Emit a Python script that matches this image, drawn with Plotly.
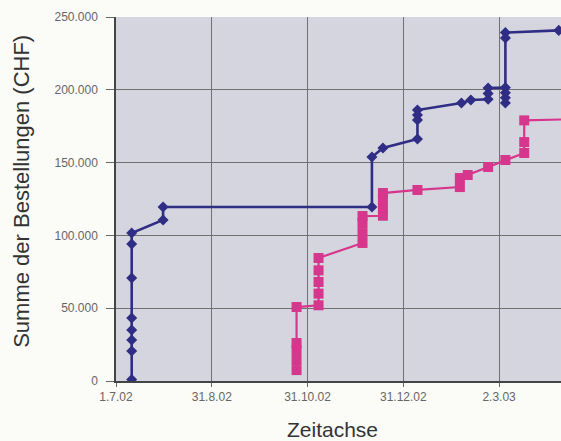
import plotly.graph_objects as go

# Blue series (diamonds)
blue_dates = (["2002-07-11"] * 8 + ["2002-07-31"] * 2 + ["2002-12-11"] * 2 +
              ["2002-12-18"] + ["2003-01-09"] * 4 + ["2003-02-06", "2003-02-12"] +
              ["2003-02-23"] * 3 + ["2003-03-06"] * 6 + ["2003-04-09"])
blue_values = [1000, 20600, 28200, 35000, 43300, 70700, 94100, 101600,
               110600, 119500,
               119500, 153800,
               160000,
               166200, 179200, 182700, 186100,
               190900, 193000,
               193500, 197500, 201200,
               201500, 191000, 194500, 198000, 235600, 239300,
               240800]

# Pink series (squares)
pink_dates = (["2002-10-24"] * 5 + ["2002-11-07"] * 5 + ["2002-12-05"] * 4 +
              ["2002-12-18"] * 4 + ["2003-01-09", "2003-02-05", "2003-02-05",
              "2003-02-10", "2003-02-23", "2003-03-06"] + ["2003-03-18"] * 3 +
              ["2003-04-25"])
pink_values = [7500, 14400, 21300, 26100, 50800,
               52000, 60000, 68000, 76000, 84500,
               94800, 101600, 108500, 113300,
               113500, 119000, 125000, 129100,
               131200, 133200, 139400, 141500, 147000, 151800,
               156600, 164100, 179000,
               180000]

x_tickvals = ["2002-07-01", "2002-08-31", "2002-10-31", "2002-12-31", "2003-03-02"]
x_ticktext = ["1.7.02", "31.8.02", "31.10.02", "31.12.02", "2.3.03"]
y_tickvals = [0, 50000, 100000, 150000, 200000, 250000]
y_ticktext = ["0", "50.000", "100.000", "150.000", "200.000", "250.000"]

BLUE = "#302d84"
PINK = "#d6378c"

fig = go.Figure()
fig.add_trace(go.Scatter(
    x=pink_dates, y=pink_values, mode="lines+markers",
    line=dict(color=PINK, width=2.2),
    marker=dict(symbol="square", size=10, color=PINK),
    showlegend=False))
fig.add_trace(go.Scatter(
    x=blue_dates, y=blue_values, mode="lines+markers",
    line=dict(color=BLUE, width=2.6),
    marker=dict(symbol="diamond", size=8.5, color=BLUE),
    showlegend=False))

FONT = "Liberation Sans, Arial, sans-serif"

fig.update_layout(
    width=561, height=441,
    autosize=False,
    margin=dict(l=116, r=0, t=17, b=60),
    paper_bgcolor="#fbfbf8",
    plot_bgcolor="#d5d5df",
    font=dict(family=FONT, color="#555555"),
    xaxis=dict(
        type="date",
        range=["2002-07-01", "2003-04-10 10:00"],
        tickmode="array", tickvals=x_tickvals, ticktext=x_ticktext,
        tickfont=dict(size=12, color="#666666"),
        showgrid=True, gridcolor="#707070", gridwidth=1,
        showline=True, linecolor="#444444", linewidth=1.5,
        ticks="outside", ticklen=4, tickcolor="#666666",
        zeroline=False, fixedrange=True,
    ),
    yaxis=dict(
        range=[0, 250000],
        tickmode="array", tickvals=y_tickvals, ticktext=y_ticktext,
        tickfont=dict(size=12, color="#666666"),
        showgrid=True, gridcolor="#707070", gridwidth=1,
        showline=True, linecolor="#444444", linewidth=1.5,
        ticks="outside", ticklen=8, tickcolor="#666666",
        ticklabelstandoff=6,
        zeroline=False, fixedrange=True,
    ),
    annotations=[
        dict(text="Summe der Bestellungen (CHF)", xref="paper", yref="paper",
             x=-0.211, y=0.52, xanchor="center", yanchor="middle",
             textangle=-90, showarrow=False,
             font=dict(size=22, color="#333333", family=FONT)),
        dict(text="Zeitachse", xref="paper", yref="paper",
             x=0.486, y=-0.134, xanchor="center", yanchor="middle",
             showarrow=False,
             font=dict(size=21, color="#333333", family=FONT)),
    ],
)

post = ("document.body.style.margin='0';"
        "document.body.style.padding='0';"
        "document.body.style.overflow='hidden';"
        "document.documentElement.style.overflow='hidden';"
        "var gd=document.getElementById('{plot_id}');"
        "Plotly.relayout(gd,{width:561,height:441});")

fig.write_html("out.html", post_script=post, config={"displayModeBar": False, "responsive": False})
